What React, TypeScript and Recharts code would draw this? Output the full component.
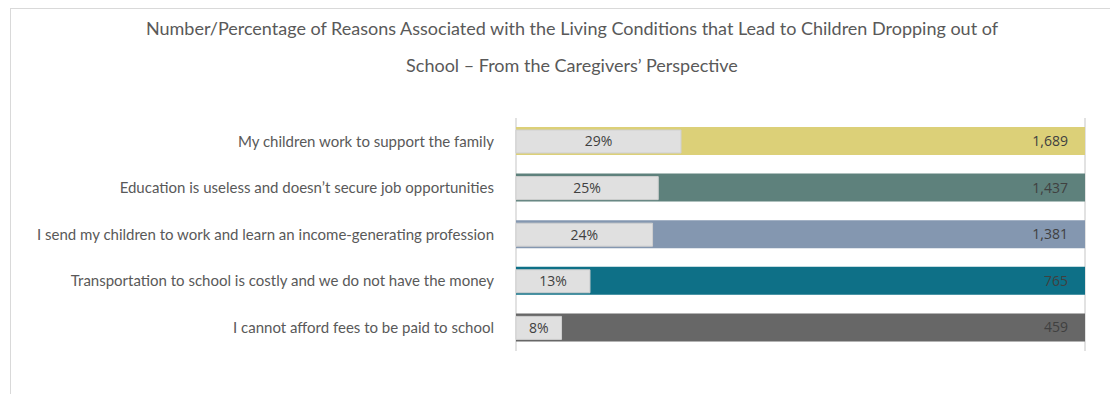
import React from 'react';
import { BarChart, Bar, XAxis, YAxis, CartesianGrid, Cell, LabelList } from 'recharts';

const categories = [
  'My children work to support the family',
  'Education is useless and doesn\u2019t secure job opportunities',
  'I send my children to work and learn an income-generating profession',
  'Transportation to school is costly and we do not have the money',
  'I cannot afford fees to be paid to school',
];
const counts = [1689, 1437, 1381, 765, 459];
const percents = [29, 25, 24, 13, 8];
const totalShare = 100;
const barColors = ['#DCD078', '#5E817C', '#8497B0', '#0E7087', '#676767'];
const gridTicks = [0, 20, 40, 60, 80, 100];
const titleLines = [
  'Number/Percentage of Reasons Associated with the Living Conditions that Lead to Children Dropping out of',
  'School \u2013 From the Caregivers\u2019 Perspective',
];

const data = categories.map((name, i) => ({
  name,
  full: totalShare,
  count: counts[i],
  pct: percents[i],
}));

const FONT = 'Lato, "Open Sans", sans-serif';

export default function App() {
  return (
    <div style={{ position: 'absolute', left: 0, top: 0, width: 1110, height: 394, background: '#fff', overflow: 'hidden', fontFamily: FONT }}>
      <div style={{ position: 'absolute', left: 10, top: 8, width: 1200, height: 500, border: '1.5px solid #D9D9D9', boxSizing: 'border-box' }} />
      <div style={{ position: 'absolute', left: 72, width: 1000, top: 18, lineHeight: '20px', fontSize: 18, color: '#595959', textAlign: 'center', whiteSpace: 'nowrap' }}>{titleLines[0]}</div>
      <div style={{ position: 'absolute', left: 72, width: 1000, top: 55, lineHeight: '20px', fontSize: 18, color: '#595959', textAlign: 'center', whiteSpace: 'nowrap' }}>{titleLines[1]}</div>
      <div style={{ position: 'absolute', left: 0, top: 0 }}>
        <BarChart
          width={1110}
          height={394}
          data={data}
          layout="vertical"
          margin={{ top: 118, right: 25, bottom: 43, left: 0 }}
        >
          <CartesianGrid horizontal={false} vertical={true} stroke="#D9D9D9" strokeWidth={1.5} />
          <XAxis type="number" domain={[0, 100]} ticks={gridTicks} height={0} tick={false} axisLine={false} tickLine={false} />
          <YAxis
            yAxisId="cat"
            type="category"
            dataKey="name"
            width={516}
            axisLine={false}
            tickLine={false}
            tickMargin={16}
            tick={{ fill: '#595959', fontSize: 15, fontFamily: FONT }}
          />
          <YAxis yAxisId="pct" type="category" dataKey="name" hide />
          <Bar yAxisId="cat" dataKey="full" barSize={28} isAnimationActive={false}>
            {data.map((d, i) => (
              <Cell key={d.name} fill={barColors[i]} />
            ))}
            <LabelList
              dataKey="count"
              position="insideRight"
              offset={17}
              formatter={(v: any) => Number(v).toLocaleString('en-US')}
              style={{ fill: '#404040', fontSize: 14, fontFamily: '"Open Sans", sans-serif' }}
            />
          </Bar>
          <Bar yAxisId="pct" dataKey="pct" barSize={23} fill="#E0E0E0" stroke="#CFCFCF" strokeWidth={1} isAnimationActive={false}>
            <LabelList
              dataKey="pct"
              position="center"
              formatter={(v: any) => `${v}%`}
              style={{ fill: '#404040', fontSize: 14, fontFamily: '"Open Sans", sans-serif' }}
            />
          </Bar>
        </BarChart>
      </div>
    </div>
  );
}
